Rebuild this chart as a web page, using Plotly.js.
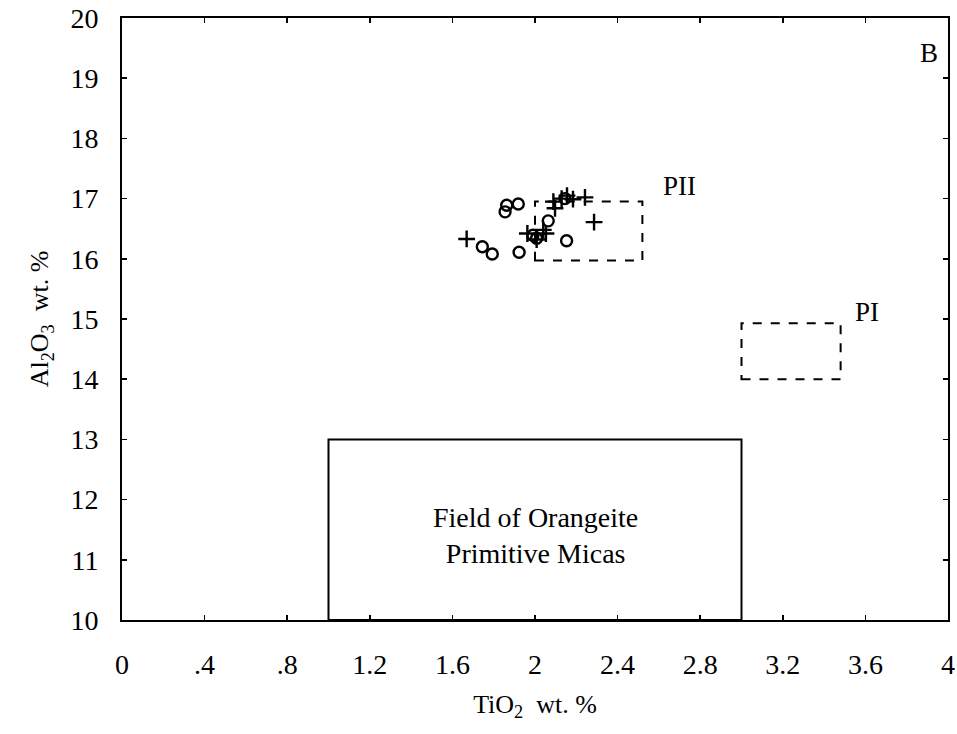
<!DOCTYPE html>
<html>
<head>
<meta charset="utf-8">
<script src="https://cdn.plot.ly/plotly-3.0.1.min.js"></script>
<style>
  html, body { margin: 0; padding: 0; background: #fff; }
  #chart { width: 957px; height: 734px; }
</style>
</head>
<body>
<div id="chart"></div>
<script>
// Mica analyses: TiO2 vs Al2O3 (wt. %)
const circleTiO2  = [1.863, 1.919, 1.855, 2.064, 2.008, 1.99, 1.745, 1.793, 1.923, 2.153, 2.145];
const circleAl2O3 = [16.89, 16.91, 16.78, 16.63, 16.34, 16.39, 16.20, 16.08, 16.11, 16.30, 17.00];

const plusTiO2  = [1.669, 1.963, 2.008, 2.053, 2.04, 2.089, 2.097, 2.129, 2.155, 2.184, 2.242, 2.286];
const plusAl2O3 = [16.33, 16.42, 16.32, 16.42, 16.48, 16.95, 16.84, 17.00, 17.05, 16.99, 17.02, 16.61];

// Reference fields [x0, x1, y0, y1]
const orangeiteField = [1.0, 3.0, 10.0, 13.0];
const fieldPII = [2.0, 2.52, 15.97, 16.95];
const fieldPI  = [3.0, 3.48, 14.0, 14.93];

const xTickVals = [0, 0.4, 0.8, 1.2, 1.6, 2, 2.4, 2.8, 3.2, 3.6, 4];
const xTickText = ['0', '.4', '.8', '1.2', '1.6', '2', '2.4', '2.8', '3.2', '3.6', '4'];
const yTickVals = [10, 11, 12, 13, 14, 15, 16, 17, 18, 19, 20];

const serif = '"Liberation Serif", "Times New Roman", serif';

function rect(b, dash) {
  return {
    type: 'rect', xref: 'x', yref: 'y',
    x0: b[0], x1: b[1], y0: b[2], y1: b[3],
    line: { color: '#000', width: 2, dash: dash ? 'dash' : 'solid' },
    fillcolor: 'rgba(0,0,0,0)'
  };
}

const traces = [
  {
    x: circleTiO2, y: circleAl2O3, type: 'scatter', mode: 'markers',
    marker: { symbol: 'circle-open', size: 11, color: '#000', line: { width: 2.4, color: '#000' } },
    hoverinfo: 'x+y'
  },
  {
    x: plusTiO2, y: plusAl2O3, type: 'scatter', mode: 'markers',
    marker: { symbol: 'cross-thin-open', size: 12, color: '#000', line: { width: 2.4, color: '#000' } },
    hoverinfo: 'x+y'
  }
];

const axisCommon = {
  showgrid: false, zeroline: false,
  showline: true, mirror: 'ticks', linecolor: '#000', linewidth: 2,
  ticks: 'inside', ticklen: 5, tickwidth: 1.5, tickcolor: '#000',
  tickfont: { family: serif, size: 28, color: '#000' }
};

const layout = {
  width: 957, height: 734,
  margin: { l: 122, r: 9, t: 18, b: 114 },
  paper_bgcolor: '#fff', plot_bgcolor: '#fff',
  showlegend: false,
  font: { family: serif, color: '#000' },
  xaxis: Object.assign({}, axisCommon, {
    range: [0, 4], tickmode: 'array', tickvals: xTickVals, ticktext: xTickText,
    ticklabelstandoff: 18,
    title: { text: 'TiO<sub>2</sub>  wt. %', font: { family: serif, size: 26, color: '#000' }, standoff: 16 }
  }),
  yaxis: Object.assign({}, axisCommon, {
    range: [10, 20], tickmode: 'array', tickvals: yTickVals,
    ticklabelstandoff: 16,
    title: { text: 'Al<sub>2</sub>O<sub>3</sub>  wt. %', font: { family: serif, size: 26, color: '#000' }, standoff: 14 }
  }),
  shapes: [rect(orangeiteField, false), rect(fieldPII, true), rect(fieldPI, true)],
  annotations: [
    { x: 2.0, y: 11.4, xref: 'x', yref: 'y', text: 'Field of Orangeite<br>Primitive Micas',
      showarrow: false, font: { family: serif, size: 28, color: '#000' } },
    { x: 2.70, y: 17.21, xref: 'x', yref: 'y', text: 'PII', showarrow: false,
      font: { family: serif, size: 27, color: '#000' } },
    { x: 3.61, y: 15.12, xref: 'x', yref: 'y', text: 'PI', showarrow: false,
      font: { family: serif, size: 27, color: '#000' } },
    { x: 3.91, y: 19.42, xref: 'x', yref: 'y', text: 'B', showarrow: false,
      font: { family: serif, size: 27, color: '#000' } }
  ]
};

Plotly.newPlot('chart', traces, layout, { displayModeBar: false, staticPlot: true });
</script>
</body>
</html>
